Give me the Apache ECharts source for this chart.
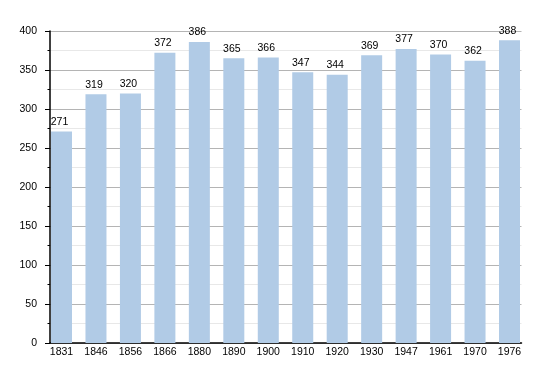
<!DOCTYPE html>
<html><head><meta charset="utf-8">
<script src="https://cdn.jsdelivr.net/npm/echarts@6/dist/echarts.min.js"></script>
<style>html,body{margin:0;padding:0;background:#fff}#c{width:550px;height:373px}</style>
</head><body><div id="c"></div>
<script>
const categories = ['1831','1846','1856','1866','1880','1890','1900','1910','1920','1930','1947','1961','1970','1976'];
const population = [271,319,320,372,386,365,366,347,344,369,377,370,362,388];
const yTicks = [0,50,100,150,200,250,300,350,400];

const chart = echarts.init(document.getElementById('c'), null, {renderer:'canvas'});
const font = 'Liberation Sans, Arial, sans-serif';
chart.setOption({
  animation:false,
  grid:{left:50,right:28.5,top:31,bottom:30,containLabel:false},
  xAxis:{
    type:'value', min:-0.334, max:13.348,
    axisLine:{show:true,onZero:false,lineStyle:{color:'#000',width:1.5}},
    axisTick:{show:false},
    splitLine:{show:false},
    axisLabel:{customValues:categories.map((c,i)=>i),formatter:v=>categories[Math.round(v)],
      fontFamily:font,fontSize:10.5,color:'#000',margin:4,showMinLabel:true,showMaxLabel:true}
  },
  yAxis:{
    type:'value', min:yTicks[0], max:yTicks[yTicks.length-1], interval:50,
    axisLine:{show:true,onZero:false,lineStyle:{color:'#000',width:1.5}},
    axisTick:{show:true,length:5,lineStyle:{color:'#000'}},
    minorTick:{show:true,splitNumber:2,length:2.5,lineStyle:{color:'#000'}},
    splitLine:{show:true,lineStyle:{color:'#b4b4b4',width:1}},
    minorSplitLine:{show:true,lineStyle:{color:'#e8e8e8',width:1}},
    axisLabel:{fontFamily:font,fontSize:10.5,color:'#000',margin:13}
  },
  series:[{
    type:'bar',
    data:population.map((v,i)=>[i,v]),
    barWidth:21,
    itemStyle:{color:'#b1cbe6'},
    label:{show:true,position:'top',distance:4,offset:[-2,0],fontFamily:font,fontSize:10.5,color:'#000'}
  }]
});
</script></body></html>
